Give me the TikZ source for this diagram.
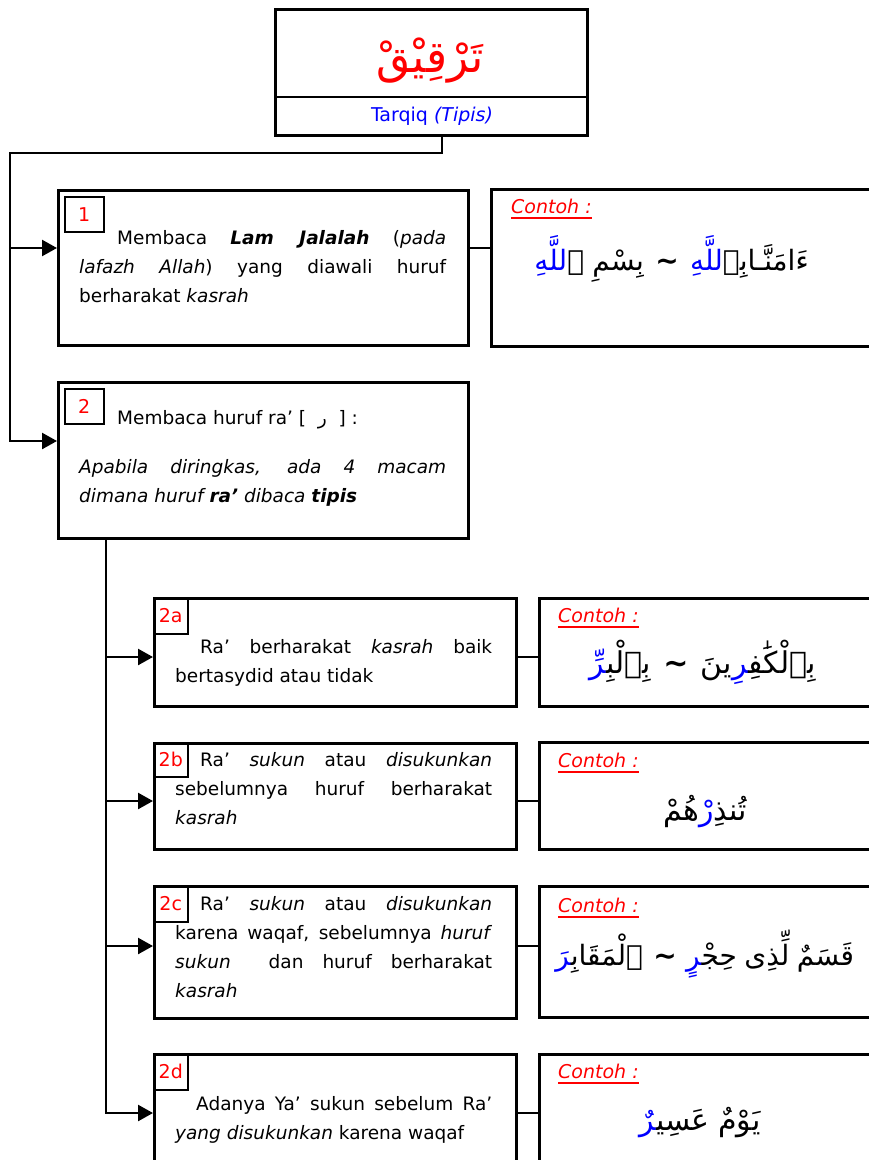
\documentclass[tikz,border=0pt]{standalone}
\usepackage{fontspec}
\setmainfont{DejaVu Sans}
\newfontfamily\arabicfont[Script=Arabic]{DejaVu Sans}
\usetikzlibrary{arrows.meta}
\newcommand\bodyfs{\fontsize{18.5}{29}\selectfont\tolerance=10000\hbadness=10000\hyphenpenalty=10000\exhyphenpenalty=10000}
\newcommand\swung{\textbf{\char"007E}}
\begin{document}
\begin{tikzpicture}[x=1pt,y=-1pt,
  box/.style={draw, line width=2.6pt, anchor=north west, inner sep=0pt},
  numbox/.style={draw, line width=1.5pt, anchor=north west, inner sep=0pt, text=red, font=\fontsize{19}{20}\selectfont},
  body/.style={anchor=base west, inner sep=0pt, text width=#1, align=justify, font=\bodyfs},
  conn/.style={line width=2.4pt},
  arr/.style={conn, -{Triangle[length=15pt,width=16pt]}},
  contoh/.style={anchor=base west, inner sep=0pt, text=red, font=\fontsize{19}{20}\selectfont\itshape},
  ar/.style={anchor=base, inner sep=0pt, font=\arabicfont\fontsize{30}{36}\selectfont},
  arsm/.style={ar, font=\arabicfont\fontsize{28}{34}\selectfont},
  uline/.style={red, line width=2pt}]
\useasboundingbox (0,0) rectangle (869,1160);
\clip (0,0) rectangle (869,1160);

% title
\node[box, minimum width=312pt, minimum height=126pt] (title) at (274,8) {};
\coordinate (tdiv) at (0,97);
\draw[line width=2.6pt] (title.west |- tdiv) -- (title.east |- tdiv);
\node[ar, font=\arabicfont\fontsize{44}{46}\selectfont, text=red] (tt) at (430,72) {تَرْقِيْقْ};
\node[anchor=base, inner sep=0pt, text=blue, font=\fontsize{19}{20}\selectfont] (tsub) at (432,121) {Tarqiq \textit{(Tipis)}};

% main trunk
\coordinate (j0) at (442,153);
\coordinate (j1) at (10,153);
\coordinate (a1) at (57,248);
\coordinate (a2) at (57,441);

% box 1
\node[box, minimum width=410pt, minimum height=155pt] (b1) at (57,189) {};
\node[numbox, minimum width=39pt, minimum height=35pt] (n1) at (64,196) {1};
\node[body=367pt] (t1) at (79,244) {\hspace*{38pt}Membaca \textbf{\textit{Lam Jalalah}} (\textit{pada}\linebreak \textit{lafazh Allah}) yang diawali huruf\linebreak berharakat \textit{kasrah}};
\node[box, minimum width=390pt, minimum height=157pt] (e1) at (490,188) {};
\node[contoh] (c1) at (511,213) {Contoh :};
\draw[uline] ([yshift=-5pt]c1.base west) -- ([yshift=-5pt]c1.base east);
% Arabic words set one per node, right to left
\node[arsm] (x1t) at (667,270) {\swung};
\node[arsm, anchor=base west] (x1c) at ([xshift=11pt]x1t.base east) {{\color{blue}للَّهِ}ءَامَنَّـابِٱ};
\node[arsm, anchor=base east] (x1b) at ([xshift=-11pt]x1t.base west) {بِسْمِ};
\node[arsm, anchor=base east] (x1a) at ([xshift=-8pt]x1b.base west) {{\color{blue}للَّهِ}ٱ};

% box 2
\node[box, minimum width=410pt, minimum height=156pt] (b2) at (57,381) {};
\node[numbox, minimum width=39pt, minimum height=35pt] (n2) at (64,388) {2};
\node[anchor=base west, inner sep=0pt, font=\bodyfs] (t2) at (117,424) {Membaca huruf ra’ [\ \ {\arabicfont ر}\ \ ] :};
\node[body=367pt] (t2i) at (79,473) {\itshape Apabila diringkas, ada 4 macam\linebreak dimana huruf \textbf{ra’} dibaca \textbf{tipis}};

\draw[arr] (title.south -| j0) -- (j0) -- (j1) |- (a2);
\draw[arr] (j1 |- a1) -- (a1);
\draw[conn] (b1.east |- a1) -- (e1.west |- a1);

% sub trunk
\coordinate (s0) at (106,0);
\coordinate (aa) at (153,657);
\coordinate (ab) at (153,801);
\coordinate (ac) at (153,946);
\coordinate (ad) at (153,1113);

% 2a
\node[box, minimum width=362pt, minimum height=108pt] (b2a) at (153,597) {};
\node[numbox, minimum width=34pt, minimum height=36pt] (n2a) at (153,597) {2a};
\node[body=317pt] (t2a) at (175,653) {\hspace*{25pt}Ra’ berharakat \textit{kasrah} baik\linebreak bertasydid atau tidak};
\node[box, minimum width=342pt, minimum height=108pt] (e2a) at (538,597) {};
\node[contoh] (c2a) at (558,622) {Contoh :};
\draw[uline] ([yshift=-5pt]c2a.base west) -- ([yshift=-5pt]c2a.base east);
\node[ar] (x2at) at (676,673) {\swung};
\node[ar, anchor=base west] (x2ab) at ([xshift=12pt]x2at.base east) {ينَ{\color{blue}^^^^200dرِ}بِٱلْكَٰفِ^^^^200d};
\node[ar, anchor=base east] (x2aa) at ([xshift=-12pt]x2at.base west) {{\color{blue}^^^^200dرِّ}بِٱلْبِ^^^^200d};

% 2b
\node[box, minimum width=362pt, minimum height=106pt] (b2b) at (153,742) {};
\node[numbox, minimum width=34pt, minimum height=34pt] (n2b) at (153,742) {2b};
\node[body=317pt] (t2b) at (175,766) {\hspace*{25pt}Ra’ \textit{sukun} atau \textit{disukunkan}\linebreak sebelumnya huruf berharakat\linebreak \textit{kasrah}};
\node[box, minimum width=342pt, minimum height=107pt] (e2b) at (538,741) {};
\node[contoh] (c2b) at (558,767) {Contoh :};
\draw[uline] ([yshift=-5pt]c2b.base west) -- ([yshift=-5pt]c2b.base east);
\node[ar] (x2b) at (705,820) {هُمْ{\color{blue}رْ}تُنذِ};

% 2c
\node[box, minimum width=362pt, minimum height=132pt] (b2c) at (153,885) {};
\node[numbox, minimum width=34pt, minimum height=36pt] (n2c) at (153,885) {2c};
\node[body=317pt] (t2c) at (175,910) {\hspace*{25pt}Ra’ \textit{sukun} atau \textit{disukunkan}\linebreak karena waqaf, sebelumnya \textit{huruf}\linebreak \textit{sukun}\ \ dan huruf berharakat\linebreak \textit{kasrah}};
\node[box, minimum width=342pt, minimum height=131pt] (e2c) at (538,885) {};
\node[contoh] (c2c) at (558,912) {Contoh :};
\draw[uline] ([yshift=-5pt]c2c.base west) -- ([yshift=-5pt]c2c.base east);
\node[arsm] (x2ct) at (665,965) {\swung};
\node[arsm, anchor=base east] (x2ca) at ([xshift=-10pt]x2ct.base west) {{\color{blue}^^^^200dرَ}ٱلْمَقَابِ^^^^200d};
\node[arsm, anchor=base west] (x2cb) at ([xshift=9pt]x2ct.base east) {{\color{blue}^^^^200dرٍ}حِجْ^^^^200d};
\node[arsm, anchor=base west] (x2cc) at ([xshift=7pt]x2cb.base east) {لِّذِى};
\node[arsm, anchor=base west] (x2cd) at ([xshift=7pt]x2cc.base east) {قَسَمٌ};

% 2d
\node[box, minimum width=362pt, minimum height=130pt] (b2d) at (153,1053) {};
\node[numbox, minimum width=34pt, minimum height=36pt] (n2d) at (153,1053) {2d};
\node[body=317pt] (t2d) at (175,1110) {\hspace*{21pt}Adanya Ya’ sukun sebelum Ra’\linebreak \textit{yang disukunkan} karena waqaf};
\node[box, minimum width=342pt, minimum height=130pt] (e2d) at (538,1053) {};
\node[contoh] (c2d) at (558,1078) {Contoh :};
\draw[uline] ([yshift=-5pt]c2d.base west) -- ([yshift=-5pt]c2d.base east);
\coordinate (x2dm) at (714,1130);
\node[ar, anchor=base east] (x2da) at ([xshift=-4pt]x2dm) {{\color{blue}^^^^200dرٌ}عَسِي^^^^200d};
\node[ar, anchor=base west] (x2db) at ([xshift=4pt]x2dm) {يَوْمٌ};

% sub connectors
\draw[arr] (b2.south -| s0) |- (ad);
\draw[arr] (s0 |- aa) -- (aa);
\draw[arr] (s0 |- ab) -- (ab);
\draw[arr] (s0 |- ac) -- (ac);
\draw[conn] (b2a.east |- aa) -- (e2a.west |- aa);
\draw[conn] (b2b.east |- ab) -- (e2b.west |- ab);
\draw[conn] (b2c.east |- ac) -- (e2c.west |- ac);
\draw[conn] (b2d.east |- ad) -- (e2d.west |- ad);
\end{tikzpicture}
\end{document}
